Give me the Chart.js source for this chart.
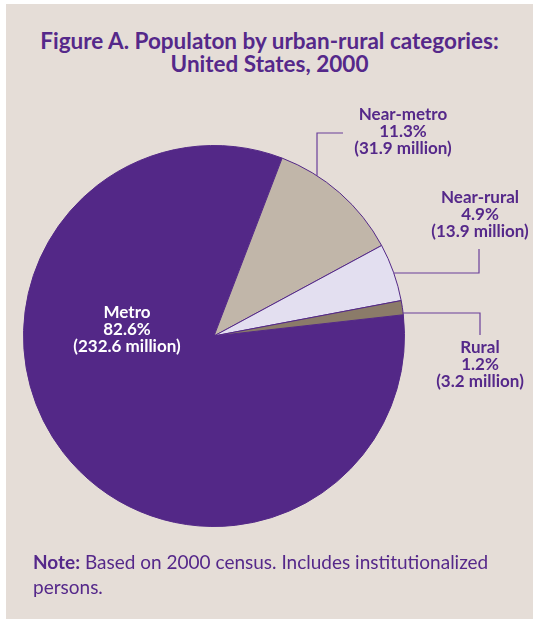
<!DOCTYPE html>
<html>
<head>
<meta charset="utf-8">
<script src="https://cdn.jsdelivr.net/npm/chart.js@4"></script>
<style>
  html, body { margin: 0; padding: 0; background: #fff; }
  body { width: 533px; height: 621px; position: relative; overflow: hidden; font-family: Lato, "Open Sans", sans-serif; }
  .panel { position: absolute; left: 6px; top: 4px; right: 0; bottom: 2px; background: #e5ddd7; }
  .title { position: absolute; left: 6px; right: 0; top: 29px; text-align: center; color: #55288a; font-weight: bold; font-size: 22.5px; line-height: 23px; }
  .note { position: absolute; left: 33px; top: 549px; width: 490px; color: #55288a; font-size: 19px; line-height: 25px; }
  canvas { position: absolute; left: 0; top: 0; }
</style>
</head>
<body>
<div class="panel"></div>
<div class="title">Figure A. Populaton by urban-rural categories:<br>United States, 2000</div>
<canvas id="pie" width="533" height="621"></canvas>
<div class="note"><b>Note:</b> Based on 2000 census. Includes institutionalized<br>persons.</div>
<script>
const categories = ['Metro', 'Near-metro', 'Near-rural', 'Rural'];
const shares = [82.6, 11.3, 4.9, 1.2];          // percent
const millions = ['232.6', '31.9', '13.9', '3.2'];
const colors = ['#532887', '#c1b6a9', '#e3dff0', '#8b7b69'];

// label placement (layout only)
const labelLayout = [
    { x: 127, y: 313, color: '#ffffff' },
    { x: 403, y: 115, color: '#55288a', leader: { dir: 'v', at: 317, elbow: 133, end: 343 } },
    { x: 480, y: 198, color: '#55288a', leader: { dir: 'h', at: 273, elbow: 479, end: 249 } },
    { x: 480, y: 348, color: '#55288a', leader: { dir: 'h', at: 313, elbow: 480, end: 335 } }
];

const labelPlugin = {
    id: 'labels',
    afterDatasetsDraw(chart) {
        const ctx = chart.ctx;
        const arcs = chart.getDatasetMeta(0).data;
        ctx.save();
        arcs.forEach((arc, i) => {
            const lay = labelLayout[i];
            const { x: cx, y: cy, outerRadius: r } = arc.getProps(['x', 'y', 'outerRadius'], true);
            if (lay.leader) {
                const L = lay.leader;
                ctx.strokeStyle = '#6a3f9a';
                ctx.lineWidth = 1.2;
                ctx.beginPath();
                if (L.dir === 'v') {
                    const ry = cy - Math.sqrt(r * r - (L.at - cx) * (L.at - cx));
                    ctx.moveTo(L.at, ry);
                    ctx.lineTo(L.at, L.elbow);
                    ctx.lineTo(L.end, L.elbow);
                } else {
                    const rx = cx + Math.sqrt(r * r - (L.at - cy) * (L.at - cy));
                    ctx.moveTo(rx, L.at);
                    ctx.lineTo(L.elbow, L.at);
                    ctx.lineTo(L.elbow, L.end);
                }
                ctx.stroke();
            }
            const lines = [categories[i], shares[i].toFixed(1) + '%', '(' + millions[i] + ' million)'];
            ctx.fillStyle = lay.color;
            ctx.font = 'bold 17px Lato, "Open Sans", sans-serif';
            ctx.textAlign = 'center';
            ctx.textBaseline = 'middle';
            lines.forEach((t, k) => ctx.fillText(t, lay.x, lay.y + k * 17));
        });
        ctx.restore();
    }
};

new Chart(document.getElementById('pie'), {
    type: 'pie',
    data: {
        labels: categories,
        datasets: [{
            data: shares,
            backgroundColor: colors,
            borderColor: '#532887',
            borderWidth: 1
        }]
    },
    options: {
        responsive: false,
        animation: false,
        rotation: 83.6,
        layout: { padding: { left: 23, right: 128, top: 145, bottom: 94 } },
        plugins: {
            legend: { display: false },
            tooltip: { enabled: false }
        }
    },
    plugins: [labelPlugin]
});
</script>
</body>
</html>
